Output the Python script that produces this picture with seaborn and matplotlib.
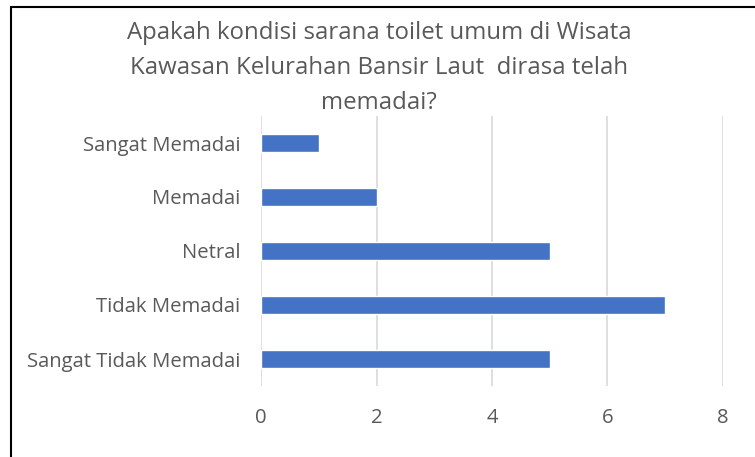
import matplotlib
matplotlib.use("Agg")
import matplotlib.pyplot as plt
from matplotlib.lines import Line2D
import seaborn as sns
import pandas as pd

categories = ["Sangat Memadai", "Memadai", "Netral", "Tidak Memadai", "Sangat Tidak Memadai"]
counts = [1, 2, 5, 7, 5]
x_ticks = [0, 2, 4, 6, 8]
title = "Apakah kondisi sarana toilet umum di Wisata\nKawasan Kelurahan Bansir Laut  dirasa telah\nmemadai?"

sns.set_theme(style="white")
plt.rcParams["font.family"] = ["Open Sans", "DejaVu Sans"]

W, H = 755, 457
fig = plt.figure(figsize=(W / 100, H / 100), dpi=100)
fig.patch.set_facecolor("white")

ax = fig.add_axes([261 / W, 1 - 386 / H, (723 - 261) / W, (386 - 116) / H])
df = pd.DataFrame({"cat": categories, "n": counts})
sns.barplot(data=df, x="n", y="cat", orient="h", color="#4472C4", width=0.33,
            saturation=1, ax=ax, zorder=3)

ax.set_xlim(0, 8)
ax.set_xticks(x_ticks)
ax.set_xlabel("")
ax.set_ylabel("")
ax.grid(axis="x", color="#D9D9D9", linewidth=1.2, zorder=0)
for s in ax.spines.values():
    s.set_visible(False)
ax.tick_params(axis="both", length=0, colors="#595959", labelsize=14.6)
ax.tick_params(axis="x", pad=16)
ax.tick_params(axis="y", pad=15)

fig.text(379 / W, 1 - 21 / H, title, ha="center", va="top", fontsize=17.3,
         color="#595959", linespacing=1.6)

# Chart frame edges
fig.add_artist(Line2D([10.5 / W, 10.5 / W], [0, 1 - 7 / H], color="black", linewidth=1.5,
                      transform=fig.transFigure))
fig.add_artist(Line2D([10.5 / W, 1], [1 - 7 / H, 1 - 7 / H], color="black", linewidth=1.5,
                      transform=fig.transFigure))

fig.savefig("out.png", dpi=100)
